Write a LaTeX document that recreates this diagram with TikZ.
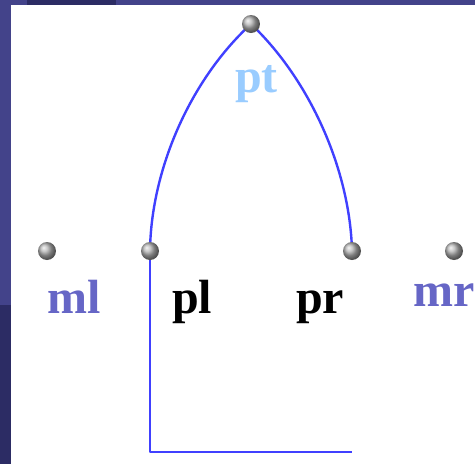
\documentclass[tikz,border=0pt]{standalone}
\usepackage{fontspec}
\setmainfont{Liberation Serif}
\usetikzlibrary{backgrounds}
\begin{document}
\begin{tikzpicture}[x=1pt,y=-1pt,
  ball/.style={circle,inner sep=0pt,minimum size=18pt,shading=ball,ball color=gray!60},
  lbl/.style={anchor=base west,inner sep=0pt,font=\fontsize{48}{52}\selectfont\bfseries},
  arc/.style={draw=blue!75,line width=2.4pt}]
\definecolor{frameL}{HTML}{43438A}
\definecolor{frameD}{HTML}{2C2C64}
\definecolor{mcol}{HTML}{6666C6}
\definecolor{ptcol}{HTML}{99CCFF}
\useasboundingbox (0,0) rectangle (475,464);
\fill[frameL] (0,0) rectangle (475,5);
\fill[frameD] (27,0) rectangle (116,5);
\fill[frameL] (0,0) rectangle (11,305);
\fill[frameD] (0,305) rectangle (11,464);
\node[ball] (pt) at (251,24) {};
\node[ball] (ml) at (47,251) {};
\node[ball] (pl) at (150,251) {};
\node[ball] (pr) at (352,251) {};
\node[ball] (mr) at (454,251) {};
\coordinate (b1) at (150,452);
\coordinate (b2) at (352,452);
\begin{scope}[on background layer]
\draw[arc] (pl.center) .. controls (151,170) and (190,80) .. (pt.center);
\draw[arc] (pt.center) .. controls (310,80) and (350,170) .. (pr.center);
\draw[arc,line join=round] (pl.center) -- (b1) -- (b2);
\end{scope}
\node[lbl,text=ptcol] (tpt) at (235,92) {pt};
\node[lbl,text=mcol] (tml) at (47,313) {ml};
\node[lbl] (tpl) at (172,313) {pl};
\node[lbl] (tpr) at (296,313) {pr};
\node[lbl,text=mcol] (tmr) at (413,306) {mr};
\end{tikzpicture}
\end{document}
